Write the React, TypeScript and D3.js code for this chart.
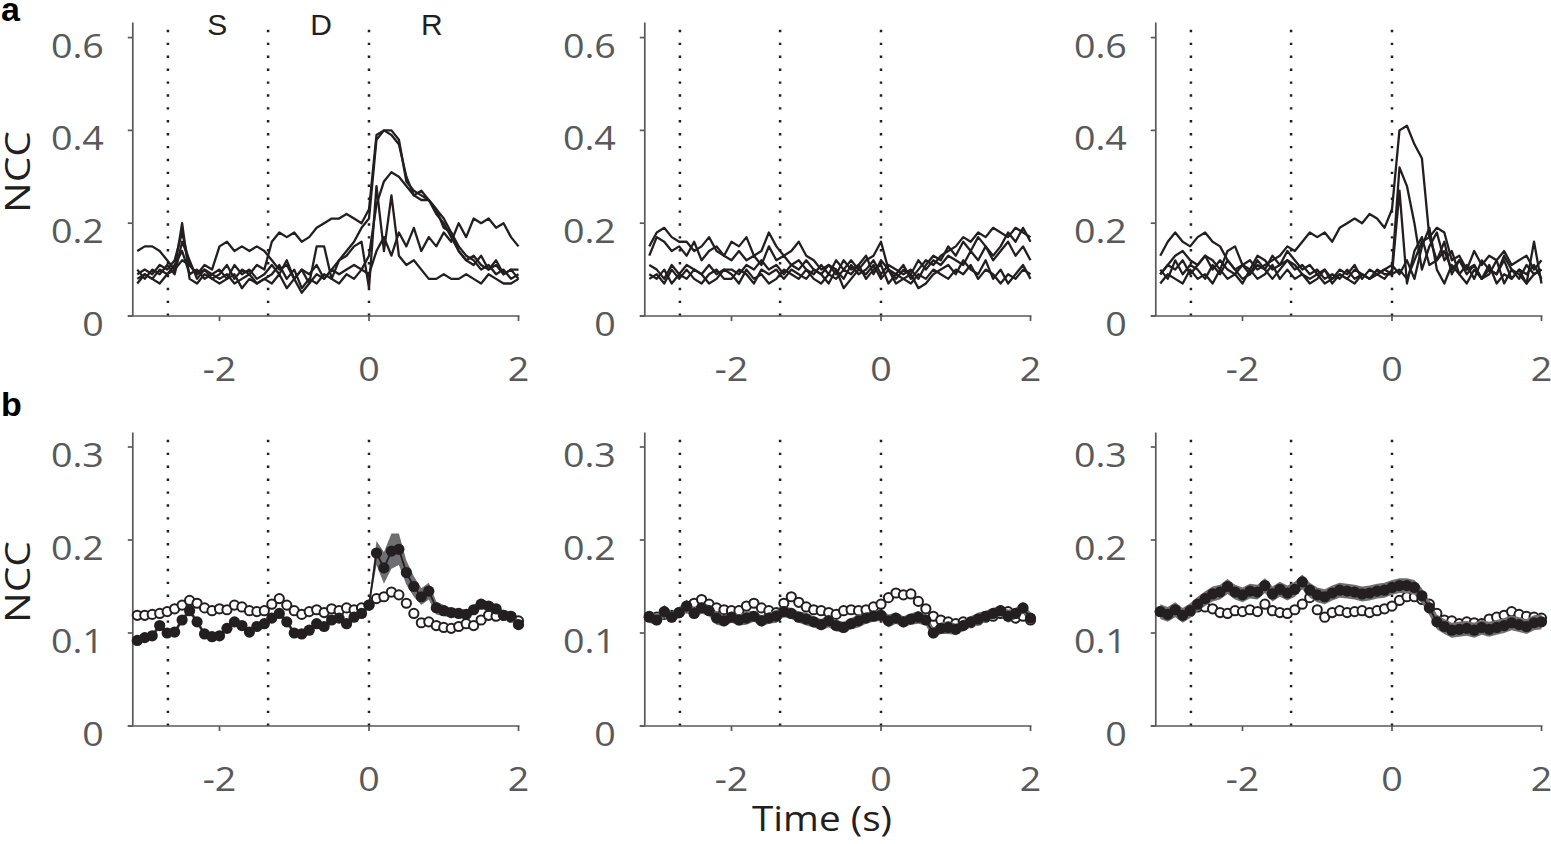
import React from "react";
import * as d3 from "d3";

// ---------------- data ----------------
const TIME = [-3.1,-3.0,-2.9,-2.8,-2.7,-2.6,-2.5,-2.4,-2.3,-2.2,-2.1,-2.0,-1.9,-1.8,-1.7,-1.6,-1.5,-1.4,-1.3,-1.2,-1.1,-1.0,-0.9,-0.8,-0.7,-0.6,-0.5,-0.4,-0.3,-0.2,-0.1,0.0,0.1,0.2,0.3,0.4,0.5,0.6,0.7,0.8,0.9,1.0,1.1,1.2,1.3,1.4,1.5,1.6,1.7,1.8,1.9,2.0];
const EVENTS = [-2.69, -1.35, 0];
const X_TICKS = [-2, 0, 2];
const TOP_Y_TICKS = [0, 0.2, 0.4, 0.6];
const BOT_Y_TICKS = [0, 0.1, 0.2, 0.3];
const EPOCH_LABELS = ["S", "D", "R"];
const EPOCH_T = [-2.03, -0.64, 0.84];

// panel a, column 1
const A1_L1 = [0.14,0.15,0.15,0.14,0.12, 0.10,0.12,0.11,0.09,0.11,0.10, 0.15,0.16,0.14,0.15,0.14,0.15,0.14, 0.12,0.10,0.11,0.08,0.10,0.09,0.11,0.08,0.10,0.09,0.10,0.11,0.10, 0.09, 0.14,0.17,0.13,0.18,0.15,0.19,0.14,0.17,0.15,0.18,0.16,0.20,0.17,0.21,0.20,0.21,0.19,0.20,0.17,0.15];
const A1_L2 = [0.09,0.10,0.09,0.11,0.10, 0.12,0.18,0.11,0.09,0.10,0.08, 0.09,0.11,0.08,0.10,0.09,0.11,0.10, 0.16,0.18,0.17,0.18,0.16,0.17,0.19,0.20,0.21,0.21,0.22,0.21,0.20, 0.23, 0.39,0.40,0.40,0.38,0.29,0.27,0.26,0.25,0.23,0.21,0.18,0.15,0.13,0.12,0.10,0.11,0.09,0.10,0.08,0.09];
const A1_L3 = [0.10,0.08,0.10,0.09,0.11, 0.09,0.16,0.12,0.08,0.10,0.09, 0.10,0.08,0.11,0.09,0.10,0.08,0.09, 0.11,0.09,0.12,0.08,0.10,0.07,0.09,0.08,0.10,0.12,0.14,0.16,0.19, 0.21, 0.38,0.40,0.39,0.37,0.30,0.26,0.27,0.25,0.22,0.20,0.17,0.14,0.12,0.13,0.11,0.10,0.12,0.09,0.10,0.10];
const A1_L4 = [0.08,0.09,0.08,0.10,0.09, 0.11,0.14,0.09,0.10,0.08,0.09, 0.08,0.09,0.07,0.08,0.09,0.07,0.08, 0.09,0.11,0.08,0.10,0.06,0.08,0.07,0.09,0.08,0.07,0.09,0.08,0.10, 0.13, 0.24,0.29,0.31,0.30,0.28,0.26,0.25,0.25,0.23,0.19,0.18,0.14,0.12,0.11,0.13,0.10,0.11,0.09,0.10,0.08];
const A1_L5 = [0.07,0.09,0.08,0.07,0.09, 0.10,0.20,0.08,0.07,0.09,0.08, 0.07,0.08,0.09,0.06,0.08,0.07,0.08, 0.07,0.09,0.06,0.08,0.05,0.07,0.15,0.15,0.08,0.12,0.13,0.15,0.16, 0.06, 0.28,0.14,0.26,0.13,0.11,0.12,0.10,0.08,0.08,0.09,0.08,0.08,0.09,0.08,0.07,0.09,0.08,0.07,0.07,0.08];

// panel a, column 2
const A2_L1 = [0.15,0.18,0.19,0.17,0.16,0.16,0.14,0.15,0.17,0.14,0.13, 0.16,0.15,0.17,0.13,0.14,0.18,0.15,0.13,0.14,0.16, 0.13,0.12,0.10,0.11,0.09,0.12,0.10,0.11,0.13,0.09, 0.12,0.10,0.09,0.11,0.08,0.10,0.12,0.11,0.13,0.14, 0.15,0.17,0.16,0.18,0.17,0.19,0.18,0.17,0.19,0.18,0.17];
const A2_L2 = [0.13,0.17,0.16,0.14,0.15,0.13,0.16,0.12,0.14,0.15,0.13, 0.12,0.14,0.12,0.13,0.11,0.15,0.12,0.13,0.11,0.10, 0.12,0.10,0.09,0.11,0.10,0.08,0.11,0.09,0.10,0.12, 0.09,0.11,0.10,0.09,0.10,0.08,0.11,0.13,0.12,0.15, 0.13,0.16,0.14,0.17,0.15,0.12,0.14,0.16,0.13,0.15,0.12];
const A2_L3 = [0.09,0.08,0.10,0.07,0.09,0.08,0.10,0.09,0.07,0.08,0.10, 0.09,0.07,0.10,0.08,0.09,0.07,0.08,0.10,0.09,0.08, 0.10,0.08,0.07,0.09,0.08,0.10,0.09,0.11,0.08,0.10, 0.11,0.07,0.09,0.08,0.07,0.09,0.08,0.10,0.09,0.08, 0.10,0.09,0.11,0.08,0.10,0.09,0.07,0.09,0.08,0.10,0.09];
const A2_L4 = [0.08,0.09,0.07,0.10,0.08,0.10,0.08,0.07,0.09,0.10,0.08, 0.08,0.10,0.09,0.07,0.10,0.09,0.10,0.08,0.10,0.09, 0.08,0.10,0.09,0.07,0.10,0.06,0.08,0.10,0.09,0.11, 0.08,0.10,0.07,0.08,0.09,0.06,0.07,0.09,0.10,0.11, 0.09,0.12,0.10,0.09,0.12,0.08,0.10,0.07,0.09,0.11,0.08];
const A2_L5 = [0.11,0.10,0.08,0.11,0.09,0.11,0.10,0.09,0.11,0.09,0.10, 0.10,0.09,0.11,0.10,0.12,0.10,0.11,0.09,0.11,0.12, 0.10,0.09,0.11,0.09,0.12,0.10,0.12,0.10,0.12,0.13, 0.16,0.10,0.08,0.10,0.09,0.12,0.10,0.12,0.11,0.13, 0.12,0.11,0.14,0.12,0.15,0.13,0.15,0.18,0.16,0.19,0.16];

// panel a, column 3
const A3_L1 = [0.09,0.11,0.10,0.12,0.09,0.11,0.13,0.10,0.12,0.10,0.09,0.11,0.12,0.10,0.11,0.12,0.13,0.15, 0.14,0.16,0.18,0.17,0.18,0.16,0.19,0.20,0.21,0.20,0.22,0.21,0.19, 0.23, 0.40,0.41,0.37,0.34,0.17,0.12,0.14,0.10,0.12,0.09,0.11,0.08,0.10,0.09,0.12,0.08,0.10,0.09,0.11,0.08];
const A3_L2 = [0.10,0.08,0.12,0.09,0.11,0.10,0.08,0.11,0.09,0.12,0.10,0.08,0.09,0.11,0.10,0.08,0.10,0.12, 0.11,0.09,0.08,0.09,0.07,0.08,0.09,0.08,0.07,0.09,0.08,0.09,0.08, 0.10, 0.32,0.28,0.20,0.10,0.15,0.18,0.12,0.14,0.09,0.11,0.08,0.12,0.10,0.09,0.13,0.10,0.08,0.11,0.09,0.10];
const A3_L3 = [0.07,0.09,0.08,0.07,0.10,0.08,0.09,0.07,0.10,0.08,0.09,0.07,0.10,0.08,0.09,0.11,0.08,0.10, 0.08,0.09,0.07,0.08,0.10,0.07,0.09,0.08,0.10,0.09,0.08,0.10,0.09, 0.09, 0.27,0.07,0.14,0.17,0.11,0.12,0.16,0.09,0.12,0.10,0.11,0.08,0.09,0.12,0.07,0.10,0.09,0.07,0.16,0.07];
const A3_L4 = [0.13,0.16,0.18,0.16,0.15,0.17,0.18,0.16,0.15,0.12,0.10,0.11,0.09,0.12,0.10,0.13,0.11,0.12, 0.10,0.11,0.09,0.10,0.08,0.09,0.08,0.10,0.08,0.09,0.08,0.09,0.10, 0.09, 0.10,0.08,0.12,0.16,0.17,0.19,0.18,0.12,0.13,0.10,0.14,0.11,0.13,0.12,0.14,0.11,0.12,0.13,0.10,0.12];
const A3_L5 = [0.09,0.11,0.13,0.14,0.12,0.11,0.13,0.12,0.10,0.14,0.15,0.11,0.10,0.13,0.12,0.10,0.11,0.14, 0.12,0.10,0.11,0.09,0.10,0.08,0.10,0.09,0.11,0.08,0.10,0.09,0.10, 0.11, 0.09,0.12,0.08,0.15,0.19,0.10,0.07,0.11,0.09,0.07,0.10,0.08,0.11,0.07,0.09,0.08,0.10,0.07,0.09,0.10];

// panel b: mean (filled), control (open), s.e.m. band
const B1_FILLED = [0.092,0.095,0.097,0.108,0.100,0.101,0.114,0.124,0.112,0.099,0.096, 0.097,0.105,0.112,0.108,0.101,0.107,0.110,0.116,0.121,0.112, 0.100,0.099,0.103,0.110,0.107,0.114,0.116,0.110,0.117,0.121, 0.130,0.186,0.170,0.188,0.190,0.165,0.150,0.139,0.145,0.127, 0.124,0.122,0.121,0.120,0.125,0.131,0.129,0.126,0.119,0.118,0.109];
const B1_OPEN = [0.119,0.119,0.120,0.121,0.123,0.126,0.130,0.135,0.132,0.127,0.124, 0.126,0.125,0.130,0.128,0.124,0.123,0.124,0.131,0.137,0.130, 0.124,0.120,0.123,0.125,0.122,0.126,0.124,0.127,0.125,0.127, 0.130,0.137,0.139,0.144,0.141,0.132,0.121,0.111,0.112,0.108, 0.106,0.105,0.107,0.110,0.108,0.114,0.119,0.118,0.119,0.117,0.113];
const B1_SEM = [0.003,0.003,0.003,0.003,0.003,0.003,0.003,0.003,0.003,0.003,0.003, 0.003,0.003,0.003,0.003,0.003,0.003,0.003,0.003,0.003,0.003, 0.003,0.003,0.003,0.003,0.003,0.003,0.003,0.003,0.003,0.003, 0.004,0.013,0.017,0.019,0.017,0.013,0.011,0.009,0.009,0.007, 0.006,0.005,0.005,0.005,0.005,0.005,0.005,0.005,0.005,0.005,0.005];

const B2_FILLED = [0.117,0.114,0.123,0.117,0.122,0.129,0.121,0.127,0.124,0.116,0.113, 0.117,0.114,0.116,0.118,0.113,0.116,0.118,0.123,0.121,0.117, 0.115,0.112,0.109,0.113,0.108,0.106,0.110,0.113,0.116,0.118, 0.119,0.113,0.116,0.112,0.115,0.117,0.114,0.100,0.105,0.106, 0.104,0.108,0.112,0.115,0.118,0.121,0.124,0.118,0.121,0.127,0.116];
const B2_OPEN = [0.118,0.117,0.120,0.119,0.122,0.127,0.132,0.136,0.131,0.127,0.125, 0.124,0.124,0.129,0.132,0.127,0.124,0.122,0.132,0.139,0.133, 0.128,0.125,0.124,0.122,0.120,0.124,0.125,0.124,0.125,0.128, 0.131,0.138,0.143,0.141,0.142,0.134,0.126,0.118,0.114,0.112, 0.110,0.112,0.111,0.114,0.117,0.118,0.121,0.123,0.116,0.118,0.114];
const B2_SEM = [0.006,0.006,0.007,0.006,0.006,0.007,0.006,0.006,0.006,0.007,0.006, 0.006,0.006,0.007,0.006,0.006,0.006,0.007,0.006,0.006,0.006, 0.007,0.006,0.006,0.007,0.006,0.006,0.006,0.007,0.006,0.006, 0.006,0.007,0.006,0.006,0.006,0.007,0.006,0.006,0.006,0.007, 0.006,0.006,0.006,0.007,0.006,0.006,0.006,0.007,0.006,0.006,0.006];

const B3_FILLED = [0.123,0.120,0.125,0.119,0.124,0.131,0.137,0.142,0.144,0.150,0.144, 0.141,0.145,0.144,0.151,0.142,0.147,0.143,0.147,0.155,0.146, 0.141,0.139,0.143,0.146,0.145,0.144,0.142,0.143,0.145,0.146, 0.149,0.151,0.151,0.149,0.140,0.127,0.112,0.107,0.103,0.104, 0.105,0.103,0.106,0.104,0.106,0.108,0.111,0.109,0.107,0.111,0.112];
const B3_OPEN = [0.123,0.121,0.124,0.120,0.123,0.128,0.128,0.126,0.122,0.121,0.124, 0.123,0.125,0.123,0.131,0.124,0.122,0.121,0.125,0.131,0.138, 0.125,0.117,0.122,0.124,0.122,0.123,0.124,0.122,0.124,0.126, 0.129,0.135,0.139,0.139,0.136,0.131,0.121,0.114,0.113,0.110, 0.112,0.111,0.110,0.115,0.117,0.119,0.123,0.120,0.118,0.117,0.116];
const B3_SEM = [0.008,0.008,0.008,0.008,0.008,0.008,0.008,0.008,0.008,0.008,0.008, 0.008,0.008,0.008,0.008,0.008,0.008,0.008,0.008,0.008,0.008, 0.008,0.008,0.008,0.008,0.008,0.008,0.008,0.008,0.008,0.008, 0.008,0.008,0.008,0.008,0.008,0.008,0.008,0.008,0.008,0.008, 0.008,0.008,0.008,0.008,0.008,0.008,0.008,0.008,0.008,0.008,0.008];

const TOP_PANELS = [
  [A1_L1, A1_L2, A1_L3, A1_L4, A1_L5],
  [A2_L1, A2_L2, A2_L3, A2_L4, A2_L5],
  [A3_L1, A3_L2, A3_L3, A3_L4, A3_L5],
];
const BOTTOM_PANELS = [
  { filled: B1_FILLED, open: B1_OPEN, sem: B1_SEM },
  { filled: B2_FILLED, open: B2_OPEN, sem: B2_SEM },
  { filled: B3_FILLED, open: B3_OPEN, sem: B3_SEM },
];

// ---------------- layout ----------------
const W = 1551;
const H = 844;
const COL_ZERO_X = [369, 881, 1392];
const PX_PER_S = 74.75;
const X_MIN = -3.16;
const X_MAX = 2.0;
const ROW_BASE_Y = [316, 726];
const ROW_TOP_Y = [22.5, 432.5];
const ROW_Y_MAX = [0.6325, 0.3156];

const INK = "#231f20";
const AXIS = "#58595b";
const FONT = "'Open Sans', 'Noto Sans', sans-serif";
const ARIAL = "'Liberation Sans', Arial, sans-serif";

function makeX(col: number) {
  const x0 = COL_ZERO_X[col];
  return d3.scaleLinear().domain([X_MIN, X_MAX]).range([x0 + X_MIN * PX_PER_S, x0 + X_MAX * PX_PER_S]);
}
function makeY(row: number) {
  return d3.scaleLinear().domain([0, ROW_Y_MAX[row]]).range([ROW_BASE_Y[row], ROW_TOP_Y[row]]);
}

function TickText({ x, y, anchor, children }: { x: number; y: number; anchor: string; children: string }) {
  return (
    <text transform={`translate(${x},${y}) scale(1.14,1)`} textAnchor={anchor}
      fontFamily={FONT} fontSize={33} fill={AXIS}>{children}</text>
  );
}

function Axes({ col, row, yTicks }: { col: number; row: number; yTicks: number[] }) {
  const x = makeX(col);
  const y = makeY(row);
  const ax = x(X_MIN);
  const y0 = y(0);
  const yTop = y(ROW_Y_MAX[row]);
  return (
    <g>
      {EVENTS.map((e, i) => (
        <line key={"ev" + i} x1={x(e)} x2={x(e)} y1={y0} y2={yTop + 3}
          stroke={INK} strokeWidth={2.5} strokeDasharray="2.4 10.5" />
      ))}
      <line x1={ax} x2={ax} y1={y0} y2={yTop} stroke={AXIS} strokeWidth={1.7} />
      <line x1={ax - 5} x2={x(X_MAX) + 1} y1={y0} y2={y0} stroke={AXIS} strokeWidth={1.7} />
      {yTicks.map((v) => (
        <g key={"yt" + v}>
          <line x1={ax - 5} x2={ax} y1={y(v)} y2={y(v)} stroke={AXIS} strokeWidth={1.7} />
          <TickText x={ax - 29} y={y(v) + 20} anchor="end">{v === 0 ? "0" : v.toFixed(1)}</TickText>
        </g>
      ))}
      {X_TICKS.map((t) => (
        <g key={"xt" + t}>
          <line x1={x(t)} x2={x(t)} y1={y0} y2={y0 + 5} stroke={AXIS} strokeWidth={1.7} />
          <TickText x={x(t)} y={y0 + 65} anchor="middle">{t < 0 ? "-" + Math.abs(t) : String(t)}</TickText>
        </g>
      ))}
    </g>
  );
}

function TopPanel({ col }: { col: number }) {
  const x = makeX(col);
  const y = makeY(0);
  const line = d3.line<number>().x((_, i) => x(TIME[i])).y((v) => y(v));
  return (
    <g>
      <Axes col={col} row={0} yTicks={TOP_Y_TICKS} />
      {TOP_PANELS[col].map((s, i) => (
        <path key={i} d={line(s) || ""} fill="none" stroke={INK} strokeWidth={2.3} strokeLinejoin="round" />
      ))}
    </g>
  );
}

function BottomPanel({ col }: { col: number }) {
  const x = makeX(col);
  const y = makeY(1);
  const p = BOTTOM_PANELS[col];
  const band = d3.area<number>()
    .x((_, i) => x(TIME[i]))
    .y0((v, i) => y(v - p.sem[i]))
    .y1((v, i) => y(v + p.sem[i]));
  const line = d3.line<number>().x((_, i) => x(TIME[i])).y((v) => y(v));
  return (
    <g>
      <Axes col={col} row={1} yTicks={BOT_Y_TICKS} />
      {p.open.map((v, i) => (
        <circle key={"o" + i} cx={x(TIME[i])} cy={y(v)} r={4.6} fill="#fff" stroke={INK} strokeWidth={2} />
      ))}
      <path d={band(p.filled) || ""} fill="#6f6f71" />
      <path d={line(p.filled) || ""} fill="none" stroke={INK} strokeWidth={1.8} />
      {p.filled.map((v, i) => (
        <circle key={"f" + i} cx={x(TIME[i])} cy={y(v)} r={5.6} fill={INK} />
      ))}
    </g>
  );
}

export default function App() {
  const x0 = makeX(0);
  return (
    <svg width={W} height={H} viewBox={`0 0 ${W} ${H}`}
      style={{ position: "absolute", left: 0, top: 0, background: "#fff", display: "block" }}>
      <rect width={W} height={H} fill="#fff" />
      {[0, 1, 2].map((c) => <TopPanel key={"t" + c} col={c} />)}
      {[0, 1, 2].map((c) => <BottomPanel key={"b" + c} col={c} />)}
      {EPOCH_LABELS.map((s, i) => (
        <text key={s} x={x0(EPOCH_T[i])} y={35} textAnchor="middle"
          fontFamily={ARIAL} fontSize={30} fill={INK}>{s}</text>
      ))}
      <text x={1} y={21} fontFamily={ARIAL} fontWeight="bold" fontSize={34} fill="#000">a</text>
      <text x={1} y={416} fontFamily={ARIAL} fontWeight="bold" fontSize={34} fill="#000">b</text>
      {ROW_BASE_Y.map((b, r) => (
        <text key={"ncc" + r} transform={`translate(30,${172 + r * 410}) rotate(-90)`} textAnchor="middle"
          fontFamily={FONT} fontSize={35} fill={INK} textLength={82} lengthAdjust="spacingAndGlyphs">NCC</text>
      ))}
      <text x={822} y={831} textAnchor="middle" fontFamily={FONT} fontSize={34} fill={INK}
        textLength={140} lengthAdjust="spacingAndGlyphs">Time (s)</text>
    </svg>
  );
}
